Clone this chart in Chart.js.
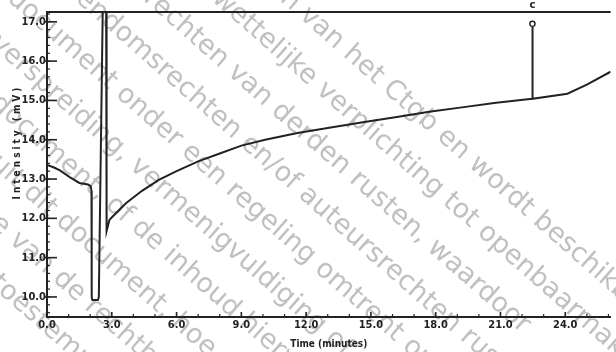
<!DOCTYPE html>
<html>
<head>
<meta charset="utf-8">
<script src="https://cdn.jsdelivr.net/npm/chart.js@4.4.0/dist/chart.umd.min.js"></script>
<style>
  html, body { margin: 0; padding: 0; background: #fff; overflow: hidden; }
  #wrap { width: 616px; height: 352px; }
</style>
</head>
<body>
<div id="wrap"><canvas id="chart" width="616" height="352"></canvas></div>
<script>
// chromatogram trace, time in minutes / intensity in mV
const timeMin = [0, 0.3, 0.6, 1.05, 1.5, 1.9, 2.02, 2.06, 2.07, 2.1, 2.36, 2.4, 2.58, 2.74, 2.76,
  2.89, 3.03, 3.67, 4.4, 5.18, 6.0, 7.0, 8.0, 9.0, 10.1, 11.6, 13.0, 14.7, 16.2, 17.7, 19.3,
  20.8, 22.47, 22.48, 22.49, 24.1, 25.0, 26.1];
const intensity = [13.36, 13.3, 13.22, 13.05, 12.9, 12.86, 12.82, 12.7, 10.0, 9.92, 9.92, 10.0, 17.25, 17.25, 11.68,
  11.96, 12.04, 12.39, 12.7, 12.98, 13.2, 13.45, 13.65, 13.85, 14.0, 14.17, 14.3, 14.45, 14.58, 14.71, 14.83,
  14.94, 15.04, 16.87, 15.04, 15.17, 15.4, 15.73];

// marked peak
const peakTime = [22.48];
const peakValue = [16.95];
const peakLabel = 'c';

const xTicks = [0, 3, 6, 9, 12, 15, 18, 21, 24];
const yTicks = [10, 11, 12, 13, 14, 15, 16, 17];

const xTitle = 'Time (minutes)';
const yTitle = 'Intensity (mV)';

// diagonal watermark over the scan
const wmLines = [
  'n van het Ctgb en wordt beschikbaar gesteld',
  'wettelijke verplichting tot openbaarmaking',
  'rechten van derden rusten, waardoor',
  'endomsrechten en/of auteursrechten rusten',
  'document onder een regeling omtrent openbaarmaking',
  'verspreiding, vermenigvuldiging of openbaarmaking',
  'document, of de inhoud hiervan',
  'uit dit document, hoe dan ook',
  'e van de rechthebbende',
  'toestemming van de rechthebbende'
];

const ink = '#222';

const scanPlugin = {
  id: 'scan',
  beforeDraw(chart) {
    const ctx = chart.ctx;
    ctx.save();
    ctx.fillStyle = '#fff';
    ctx.fillRect(0, 0, chart.width, chart.height);
    const tn = 0.88;
    const ang = Math.atan(tn);
    ctx.font = '27px "DejaVu Sans", sans-serif';
    ctx.fillStyle = '#c0c0c0';
    ctx.textBaseline = 'middle';
    wmLines.forEach((t, i) => {
      const c = -255 + i * 60;
      let x0 = c < 0 ? -c / tn : 0;
      let y0 = c < 0 ? 0 : c;
      x0 -= 8 * Math.cos(ang);
      y0 -= 8 * Math.sin(ang);
      ctx.save();
      ctx.translate(x0, y0);
      ctx.rotate(ang);
      ctx.fillText(t, 0, 0);
      ctx.restore();
    });
    ctx.restore();
  },
  afterDraw(chart) {
    const ctx = chart.ctx;
    const area = chart.chartArea;
    const xs = chart.scales.x;
    const ys = chart.scales.y;
    ctx.save();
    ctx.strokeStyle = ink;
    // top frame
    ctx.lineWidth = 2;
    ctx.beginPath();
    ctx.moveTo(area.left, area.top);
    ctx.lineTo(area.right, area.top);
    ctx.stroke();
    // y ticks, pointing inwards
    ctx.lineWidth = 1.6;
    yTicks.forEach(v => {
      const p = ys.getPixelForValue(v);
      ctx.beginPath();
      ctx.moveTo(area.left - 2, p);
      ctx.lineTo(area.left + 10, p);
      ctx.stroke();
    });
    ctx.lineWidth = 1.2;
    for (let v = 9.6; v < 17.2; v += 0.2) {
      const p = ys.getPixelForValue(v);
      ctx.beginPath();
      ctx.moveTo(area.left - 1, p);
      ctx.lineTo(area.left + 3, p);
      ctx.stroke();
    }
    // x ticks
    for (let m = 0; m <= 26; m++) {
      const p = xs.getPixelForValue(m);
      const major = m % 3 === 0;
      ctx.lineWidth = major ? 1.6 : 1.2;
      ctx.beginPath();
      ctx.moveTo(p, area.bottom + 1);
      ctx.lineTo(p, area.bottom - (major ? 5 : 3));
      ctx.stroke();
    }
    // titles
    ctx.fillStyle = ink;
    ctx.font = 'bold 10px "DejaVu Sans Condensed", "DejaVu Sans", sans-serif';
    ctx.textAlign = 'center';
    ctx.textBaseline = 'middle';
    ctx.fillText(xTitle, (area.left + area.right) / 2, 344);
    ctx.save();
    ctx.translate(17, 142);
    ctx.rotate(-Math.PI / 2);
    ctx.letterSpacing = '3px';
    ctx.fillText(yTitle, 0, 0);
    ctx.restore();
    // peak label
    ctx.font = 'bold 10px "DejaVu Sans", sans-serif';
    ctx.fillText(peakLabel, xs.getPixelForValue(peakTime[0]), 5);
    ctx.restore();
  }
};

new Chart(document.getElementById('chart'), {
  type: 'scatter',
  data: {
    datasets: [{
      data: timeMin.map((t, i) => ({ x: t, y: intensity[i] })),
      showLine: true,
      borderColor: ink,
      borderWidth: 2,
      pointRadius: 0,
      tension: 0
    }, {
      data: peakTime.map((t, i) => ({ x: t, y: peakValue[i] })),
      pointRadius: 2.6,
      pointBackgroundColor: '#fff',
      pointBorderColor: ink,
      pointBorderWidth: 1.4
    }]
  },
  options: {
    responsive: false,
    animation: false,
    layout: { padding: { top: 12, left: 0, right: 0, bottom: 0 } },
    plugins: { legend: { display: false }, tooltip: { enabled: false } },
    scales: {
      x: {
        type: 'linear',
        min: 0,
        max: 26.1,
        afterFit: s => { s.height = 35; },
        afterBuildTicks: s => { s.ticks = xTicks.map(v => ({ value: v })); },
        grid: { display: false, drawTicks: false },
        border: { display: true, color: ink, width: 2 },
        ticks: { padding: 2, color: ink, font: { family: '"DejaVu Sans Condensed"', size: 11, weight: 'bold' },
                 callback: v => v.toFixed(1), maxRotation: 0, autoSkip: false }
      },
      y: {
        min: 9.49,
        max: 17.25,
        afterFit: s => { s.width = 47; },
        afterBuildTicks: s => { s.ticks = yTicks.map(v => ({ value: v })); },
        grid: { display: false, drawTicks: false },
        border: { display: true, color: ink, width: 2 },
        ticks: { padding: 1, color: ink, font: { family: '"DejaVu Sans Condensed"', size: 11, weight: 'bold' },
                 callback: v => v.toFixed(1) }
      }
    }
  },
  plugins: [scanPlugin]
});
</script>
</body>
</html>
